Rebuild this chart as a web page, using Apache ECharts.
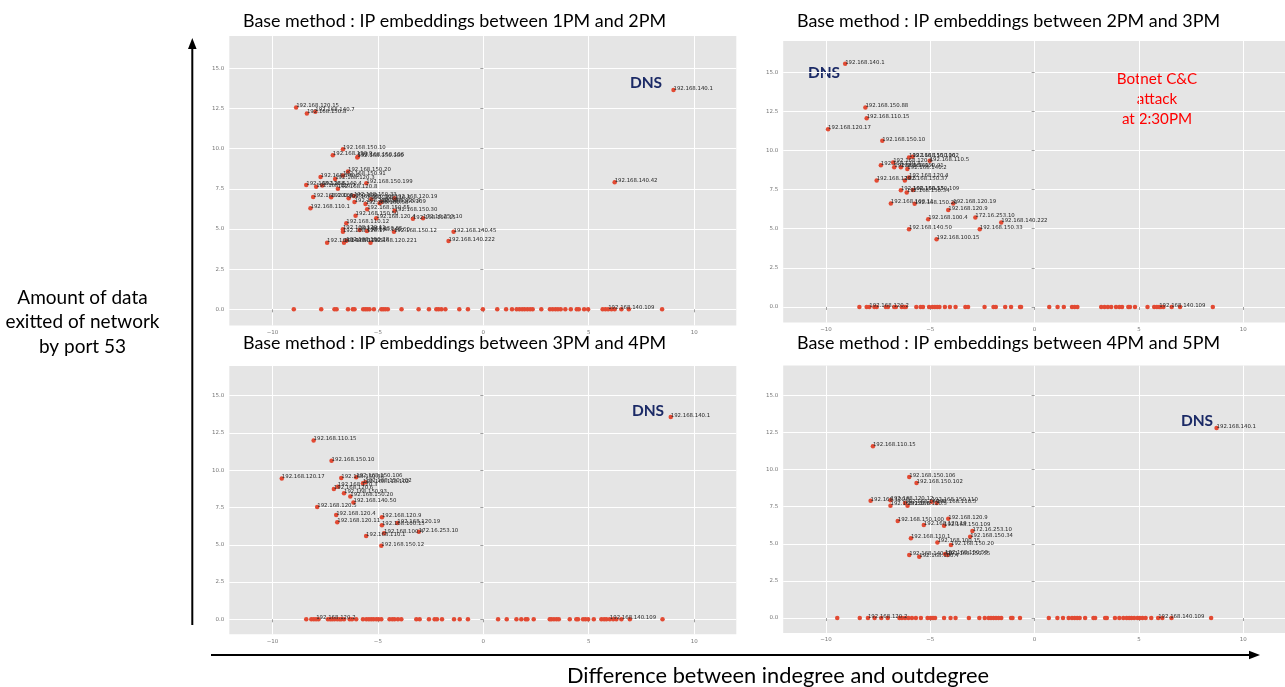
<!DOCTYPE html>
<html>
<head>
<meta charset="utf-8">
<script src="https://cdn.jsdelivr.net/npm/echarts@6/dist/echarts.min.js"></script>
<style>
html,body{margin:0;padding:0;background:#fff;}
#chart{width:1285px;height:687px;}
</style>
</head>
<body>
<div id="chart"></div>
<script>
// ---------- Panel 1 : 1PM - 2PM ----------
const p1Names = ["192.168.140.1","192.168.120.15","192.168.150.8","192.168.140.7","192.168.150.10","192.168.150.9","192.168.150.100","192.168.150.106","192.168.150.20","192.168.140.2","192.168.150.91","192.168.120.3","192.168.150.199","192.168.120.6","192.168.120.7","192.168.140.4","192.168.120.8","192.168.100.4","192.168.150.102","192.168.150.103","192.168.150.33","192.168.110.5","192.168.120.19","192.168.150.34","192.168.150.53","192.168.150.109","192.168.120.9","192.168.110.1","192.168.150.55","192.168.150.30","192.168.150.50","192.168.120.4","192.168.100.15","172.16.253.10","192.168.110.12","192.168.120.11","192.168.120.17","192.168.150.35","192.168.140.60","192.168.150.12","192.168.140.45","192.168.140.50","192.168.120.5","192.168.150.28","192.168.120.221","192.168.140.222","192.168.140.42"];
const p1X = [9.02,-8.88,-8.37,-7.97,-6.66,-7.14,-5.98,-5.95,-6.42,-7.72,-6.66,-7.03,-5.55,-8.40,-7.93,-7.64,-6.90,-8.07,-7.22,-6.39,-6.14,-5.32,-4.21,-6.11,-5.59,-4.92,-4.84,-8.20,-5.51,-4.21,-6.06,-5.08,-3.34,-2.86,-6.50,-6.66,-6.66,-5.87,-5.52,-4.24,-1.41,-7.41,-6.61,-6.50,-5.35,-1.65,6.23];
const p1Y = [13.65,12.55,12.18,12.30,9.96,9.59,9.44,9.50,8.57,8.24,8.32,8.11,7.85,7.74,7.63,7.70,7.51,6.99,6.97,6.91,7.05,6.85,6.91,6.68,6.56,6.60,6.68,6.29,6.22,6.14,5.83,5.66,5.64,5.66,5.35,4.98,4.83,4.94,4.88,4.83,4.83,4.15,4.15,4.27,4.15,4.25,7.90];
const p1ZeroX = [-8.99,-7.69,-7.06,-6.96,-6.42,-6.19,-6.11,-5.70,-5.60,-5.51,-5.40,-5.19,-4.84,-4.75,-4.65,-4.53,-3.88,-3.07,-2.58,-2.23,-2.12,-1.99,-1.80,-1.14,-0.73,-0.02,0.66,1.08,1.36,1.58,1.71,1.84,1.96,2.09,2.22,2.34,2.75,3.16,3.29,3.42,3.54,3.67,3.89,4.15,4.43,4.53,4.78,4.97,5.66,5.79,6.08,6.23,6.55,6.90,8.48];
const p1ZeroNames = ["192.168.140.109"];
const p1ZeroNameX = [5.92];

// ---------- Panel 2 : 2PM - 3PM ----------
const p2Names = ["192.168.140.1","192.168.150.88","192.168.110.15","192.168.120.17","192.168.150.10","192.168.150.106","192.168.150.102","192.168.110.5","192.168.120.3","192.168.120.6","192.168.140.4","192.168.150.91","192.168.140.2","192.168.120.5","192.168.150.37","192.168.120.4","192.168.150.53","192.168.150.34","192.168.150.109","192.168.100.11","192.168.150.20","192.168.120.19","192.168.120.9","192.168.100.4","172.16.253.10","192.168.140.222","192.168.140.50","192.168.150.33","192.168.100.15"];
const p2X = [-9.08,-8.11,-8.05,-9.90,-7.30,-6.02,-5.85,-5.03,-7.37,-6.78,-6.73,-6.41,-6.10,-7.57,-6.22,-6.02,-6.41,-6.13,-5.83,-6.89,-5.75,-3.90,-4.14,-5.10,-2.84,-1.60,-6.02,-2.63,-4.70];
const p2Y = [15.54,12.75,12.05,11.36,10.62,9.55,9.60,9.34,9.06,9.23,8.93,8.93,8.81,8.08,8.08,8.27,7.46,7.31,7.48,6.61,6.59,6.61,6.20,5.61,5.71,5.39,4.97,4.97,4.33];
const p2ZeroX = [-8.40,-8.05,-7.68,-7.57,-7.13,-7.03,-6.73,-6.65,-6.37,-6.25,-6.17,-5.67,-5.46,-5.35,-5.06,-4.90,-4.78,-4.67,-4.56,-4.30,-4.06,-3.79,-3.32,-3.19,-2.40,-1.97,-1.86,-1.41,-1.13,-0.70,-0.65,0.70,1.10,1.40,1.79,1.92,2.05,3.19,3.35,3.51,3.67,3.90,4.06,4.19,4.49,4.57,4.81,5.41,5.73,5.86,6.05,6.17,6.57,6.97,8.54];
const p2ZeroNames = ["192.168.120.2","192.168.140.109"];
const p2ZeroNameX = [-7.92,5.97];

// ---------- Panel 3 : 3PM - 4PM ----------
const p3Names = ["192.168.140.1","192.168.110.15","192.168.150.10","192.168.120.17","192.168.150.88","192.168.150.106","192.168.110.102","192.168.150.102","192.168.120.3","192.168.120.6","192.168.150.93","192.168.150.20","192.168.140.50","192.168.120.5","192.168.120.4","192.168.120.11","192.168.120.9","192.168.120.19","192.168.100.15","192.168.100.4","172.16.253.10","192.168.110.1","192.168.150.12"];
const p3X = [8.89,-8.05,-7.20,-9.56,-6.74,-6.03,-5.71,-5.60,-6.90,-7.09,-6.61,-6.31,-6.16,-7.88,-6.98,-6.93,-4.81,-4.08,-4.81,-4.71,-3.06,-5.56,-4.84];
const p3Y = [13.57,11.99,10.64,9.44,9.48,9.53,9.12,9.19,8.90,8.74,8.45,8.23,7.83,7.54,7.00,6.51,6.84,6.46,6.31,5.77,5.88,5.59,4.94];
const p3ZeroX = [-8.40,-8.16,-8.04,-7.82,-7.37,-7.26,-7.17,-7.06,-6.93,-6.82,-6.74,-6.61,-6.34,-6.23,-6.03,-5.71,-5.55,-5.43,-5.32,-5.21,-5.08,-4.97,-4.84,-4.45,-4.32,-4.21,-4.05,-3.89,-3.18,-3.02,-2.58,-2.31,-2.20,-1.96,-1.39,-1.12,-0.73,0.70,1.11,1.57,1.80,2.01,2.09,2.39,3.15,3.23,3.35,3.47,3.58,4.10,4.41,4.49,4.73,4.84,4.97,5.24,5.60,5.73,5.84,6.16,6.31,6.55,6.95,8.50];
const p3ZeroNames = ["192.168.120.2","192.168.140.109"];
const p3ZeroNameX = [-7.93,6.00];

// ---------- Panel 4 : 4PM - 5PM ----------
const p4Names = ["192.168.140.1","192.168.110.15","192.168.150.106","192.168.150.102","192.168.120.5","192.168.120.12","192.168.120.6","192.168.140.4","192.168.120.3","192.168.150.110","192.168.110.5","192.168.120.9","192.168.150.100","192.168.120.19","192.168.150.109","172.16.253.10","192.168.150.34","192.168.110.1","192.168.100.15","192.168.150.20","192.168.140.50","192.168.100.4","192.168.150.53","192.168.150.55"];
const p4X = [8.72,-7.75,-6.01,-5.66,-7.86,-6.91,-6.91,-6.21,-6.09,-4.94,-4.69,-4.14,-6.56,-5.31,-4.34,-2.98,-3.09,-5.93,-4.66,-4.01,-6.01,-5.53,-4.29,-4.18];
const p4Y = [12.80,11.57,9.50,9.10,7.90,7.93,7.57,7.75,7.57,7.84,7.75,6.69,6.53,6.27,6.22,5.86,5.48,5.37,5.08,4.92,4.24,4.13,4.31,4.24];
const p4ZeroX = [-9.46,-8.38,-7.67,-7.35,-7.04,-6.48,-6.36,-6.21,-6.05,-5.88,-5.69,-5.45,-5.13,-4.98,-4.87,-4.77,-4.34,-4.03,-3.79,-3.15,-2.65,-2.39,-2.20,-2.09,-1.97,-1.85,-1.73,-1.60,-1.13,-1.06,-0.70,0.68,1.09,1.36,1.63,1.79,1.92,2.04,2.16,2.42,2.82,2.90,3.38,3.46,3.85,4.06,4.25,4.41,4.53,4.64,4.77,4.93,5.04,5.17,5.32,5.59,6.12,6.56,8.46];
const p4ZeroNames = ["192.168.120.2","192.168.140.109"];
const p4ZeroNameX = [-7.99,5.92];

// ---------- Text ----------
const panelTitles = [
  "Base method : IP embeddings between 1PM and 2PM",
  "Base method : IP embeddings between 2PM and 3PM",
  "Base method : IP embeddings between 3PM and 4PM",
  "Base method : IP embeddings between 4PM and 5PM"
];
const xTicks = [-10,-5,0,5,10];
const yTicks = [0,2.5,5,7.5,10,12.5,15];
const yLabelLines = ["Amount of data","exitted of network","by port 53"];
const xLabel = "Difference between indegree and outdegree";
const attackLines = ["Botnet C&C","attack","at 2:30PM"];

// ---------- Layout (pixels) ----------
const gridBoxes = [
  {left:229.3, top:36.1, width:507, height:289.3},
  {left:783.2, top:40.9, width:505, height:281.7},
  {left:229.3, top:365.9, width:507, height:268.3},
  {left:783.2, top:365.6, width:505, height:267.3}
];

const panels = [
  [p1Names,p1X,p1Y,p1ZeroX,p1ZeroNames,p1ZeroNameX],
  [p2Names,p2X,p2Y,p2ZeroX,p2ZeroNames,p2ZeroNameX],
  [p3Names,p3X,p3Y,p3ZeroX,p3ZeroNames,p3ZeroNameX],
  [p4Names,p4X,p4Y,p4ZeroX,p4ZeroNames,p4ZeroNameX]
];

const RED = '#E24A33';
const minus = v => (v < 0 ? '\u2212' + (-v) : '' + v);

const grids = [], xAxes = [], yAxes = [], series = [];
panels.forEach((p, i) => {
  const [names, xs, ys, zx, zn, znx] = p;
  grids.push(Object.assign({show:true, backgroundColor:'#E5E5E5', borderWidth:0, containLabel:false}, gridBoxes[i]));
  xAxes.push({
    type:'value', gridIndex:i, min:-12.05, max:12,
    axisLine:{show:false},
    axisTick:{show:true, length:3, lineStyle:{color:'#888', width:0.8}, customValues:xTicks},
    axisLabel:{customValues:xTicks, fontSize:5.5, color:'#777', margin:4, fontFamily:'DejaVu Sans', formatter:minus},
    splitLine:{show:true, lineStyle:{color:'#FFFFFF', width:1}}
  });
  yAxes.push({
    type:'value', gridIndex:i, min:-1, max:17,
    axisLine:{show:false},
    axisTick:{show:true, length:3, lineStyle:{color:'#888', width:0.8}, customValues:yTicks},
    axisLabel:{customValues:yTicks, fontSize:5.5, color:'#777', margin:5, fontFamily:'DejaVu Sans', formatter:v => v.toFixed(1)},
    splitLine:{show:true, lineStyle:{color:'#FFFFFF', width:1}}
  });
  const data = [];
  zx.forEach(x => data.push({name:'', value:[x, 0]}));
  zn.forEach((n, k) => data.push({name:n, value:[znx[k], 0]}));
  names.forEach((n, k) => data.push({name:n, value:[xs[k], ys[k]]}));
  series.push({
    type:'scatter', xAxisIndex:i, yAxisIndex:i,
    symbol:'circle', symbolSize:4.5,
    itemStyle:{color:RED, opacity:1},
    silent:true, animation:false,
    label:{
      show:true, formatter:q => q.name, position:[2.25, 3.2],
      align:'left', verticalAlign:'bottom',
      fontSize:5.4, fontFamily:'DejaVu Sans', color:'#262626'
    },
    labelLayout:{hideOverlap:false},
    data:data
  });
});

const PPT = 'Lato, "Open Sans", sans-serif';
const graphic = [];
// panel titles
const titlePos = [[243,21],[797,21],[243,343],[797,343]];
panelTitles.forEach((t, i) => {
  graphic.push({type:'text', x:titlePos[i][0], y:titlePos[i][1],
    style:{text:t, font:'17.9px ' + PPT, fill:'#000', textAlign:'left', textVerticalAlign:'middle'}});
});
// vertical arrow
graphic.push({type:'line', shape:{x1:192.3, y1:625, x2:192.3, y2:46}, style:{stroke:'#000', lineWidth:2}});
graphic.push({type:'polygon', shape:{points:[[192.3,38],[188,49],[196.6,49]]}, style:{fill:'#000'}});
// horizontal arrow
graphic.push({type:'line', shape:{x1:211, y1:655, x2:1250, y2:655}, style:{stroke:'#000', lineWidth:2}});
graphic.push({type:'polygon', shape:{points:[[1260,655],[1249,650.7],[1249,659.3]]}, style:{fill:'#000'}});
// axis titles
graphic.push({type:'text', x:82.5, y:322, style:{text:yLabelLines.join('\n'), font:'19px ' + PPT, fill:'#000', textAlign:'center', textVerticalAlign:'middle', lineHeight:24.5}});
graphic.push({type:'text', x:778, y:676, style:{text:xLabel, font:'21.8px ' + PPT, fill:'#000', textAlign:'center', textVerticalAlign:'middle'}});
// DNS annotations
const dnsPos = [[646,83],[824,73],[648,411],[1197,421]];
dnsPos.forEach(d => graphic.push({type:'text', x:d[0], y:d[1], style:{text:'DNS', font:'bold 15.5px ' + PPT, fill:'#1B2A66', textAlign:'center', textVerticalAlign:'middle'}}));
// attack annotation
graphic.push({type:'text', x:1157, y:99, style:{text:attackLines.join('\n'), font:'15.2px ' + PPT, fill:'#FF0000', textAlign:'center', textVerticalAlign:'middle', lineHeight:19.7}});

const chart = echarts.init(document.getElementById('chart'), null, {renderer:'canvas'});
chart.setOption({
  animation:false,
  backgroundColor:'#FFFFFF',
  grid:grids, xAxis:xAxes, yAxis:yAxes, series:series, graphic:graphic
});
</script>
</body>
</html>
